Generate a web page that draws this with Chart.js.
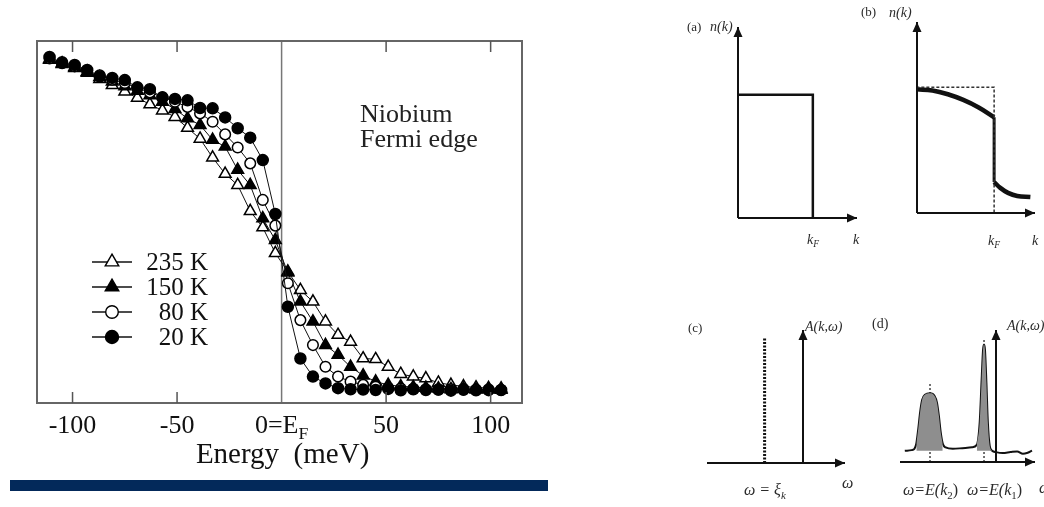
<!DOCTYPE html>
<html>
<head>
<meta charset="utf-8">
<title>Niobium Fermi edge</title>
<script src="https://cdn.jsdelivr.net/npm/chart.js@4/dist/chart.umd.min.js"></script>
<style>
  html, body { margin: 0; padding: 0; background: #fff; }
  body { position: relative; width: 1044px; height: 507px; overflow: hidden; }
  canvas { position: absolute; }
  #bar { position: absolute; left: 10px; top: 480px; width: 538px; height: 11px; background: #03295a; }
</style>
</head>
<body>
<canvas id="main" width="560" height="478" style="left:0;top:0"></canvas>
<div id="bar"></div>
<canvas id="panelA" width="200" height="260" style="left:660px;top:0"></canvas>
<canvas id="panelB" width="184" height="260" style="left:860px;top:0"></canvas>
<canvas id="panelC" width="200" height="207" style="left:660px;top:300px"></canvas>
<canvas id="panelD" width="184" height="207" style="left:860px;top:300px"></canvas>
<script>
// ---- main panel data: photoemission intensity vs energy ----
const energy = [-111, -105, -99, -93, -87, -81, -75, -69, -63, -57, -51, -45, -39, -33, -27, -21, -15, -9, -3,
                3, 9, 15, 21, 27, 33, 39, 45, 51, 57, 63, 69, 75, 81, 87, 93, 99, 105];
const n20K  = [.956, .939, .934, .920, .902, .898, .892, .872, .867, .843, .840, .836, .815, .814, .789, .759, .733, .671, .522,
               .266, .123, .073, .054, .041, .038, .037, .036, .039, .035, .038, .036, .037, .034, .038, .035, .037, .036];
const n80K  = [.952, .942, .930, .918, .905, .893, .884, .870, .858, .845, .832, .818, .800, .777, .742, .706, .662, .561, .490,
               .331, .229, .160, .100, .073, .059, .050, .045, .042, .040, .039, .038, .037, .038, .036, .037, .035, .036];
const n150K = [.950, .938, .928, .915, .900, .888, .875, .862, .850, .832, .812, .786, .768, .727, .708, .644, .602, .510, .450,
               .360, .280, .225, .160, .133, .100, .076, .059, .050, .046, .044, .042, .040, .038, .039, .037, .038, .036];
const n235K = [.948, .936, .925, .912, .895, .878, .860, .843, .825, .808, .790, .760, .730, .678, .633, .602, .530, .485, .414,
               .363, .312, .280, .225, .188, .169, .123, .121, .100, .080, .073, .068, .056, .050, .046, .043, .041, .040];
const seriesLabels = ['20 K', '80 K', '150 K', '235 K'];
const tickValues = [-100, -50, 0, 50, 100];
const tickLabels = ['-100', '-50', '0=E', '50', '100'];
const energyRange = [-117, 115];

// ---- sketch data, panels (a)-(d) ----
const kA = [0, 1, 1];
const nA = [1, 1, 0];
const kBox = [0, 0, 1, 1];
const nBox = [0, 1, 1, 0];
const kUpper = [0, 0.2, 0.4, 0.6, 0.8, 1.0];
const nUpper = [0.984, 0.975, 0.945, 0.9, 0.84, 0.762];
const kLower = [1.0, 1.08, 1.18, 1.3, 1.47];
const nLower = [0.246, 0.2, 0.16, 0.135, 0.127];
const xiK = -0.4;
const wD = [-0.95, -0.88, -0.85, -0.83, -0.81, -0.79, -0.77, -0.74, -0.6875, -0.64, -0.615, -0.595, -0.575, -0.555, -0.525,
            -0.45, -0.35, -0.25, -0.20, -0.17, -0.15, -0.135, -0.125, -0.115, -0.10, -0.085, -0.065, -0.04,
            0.0, 0.07, 0.15, 0.22, 0.28, 0.33, 0.375];
const aD = [0.085, 0.09, 0.10, 0.14, 0.25, 0.38, 0.47, 0.51, 0.52, 0.50, 0.45, 0.35, 0.22, 0.14, 0.11,
            0.10, 0.105, 0.112, 0.13, 0.30, 0.62, 0.85, 0.89, 0.85, 0.60, 0.30, 0.12, 0.085,
            0.075, 0.068, 0.075, 0.08, 0.062, 0.07, 0.086];
const peakPos = [-0.6875, -0.125];
const peakTop = [0.6, 0.94];

const SERIF = '"Liberation Serif", "DejaVu Serif", serif';
const pts = (xs, ys) => xs.map((x, i) => ({ x: x, y: ys[i] }));

// draw a run of text pieces, some italic / subscript
function drawParts(ctx, parts, x, y, size, color) {
    ctx.save();
    ctx.fillStyle = color || '#222';
    ctx.textBaseline = 'alphabetic';
    ctx.textAlign = 'left';
    let cx = x;
    parts.forEach(p => {
        const s = p.sub ? size * 0.68 : size;
        ctx.font = (p.i ? 'italic ' : '') + s + 'px ' + SERIF;
        ctx.fillText(p.t, cx, y + (p.sub ? size * 0.22 : 0));
        cx += ctx.measureText(p.t).width;
    });
    ctx.restore();
    return cx - x;
}
function partsWidth(ctx, parts, size) {
    let w = 0;
    parts.forEach(p => {
        const s = p.sub ? size * 0.68 : size;
        ctx.font = (p.i ? 'italic ' : '') + s + 'px ' + SERIF;
        w += ctx.measureText(p.t).width;
    });
    return w;
}

// same geometry as chart.js point styles, for the legend
function drawMarker(ctx, style, r, x, y, fill, border, bw) {
    ctx.save();
    ctx.beginPath();
    if (style === 'triangle') {
        let rad = 0;
        ctx.moveTo(x + Math.sin(rad) * r, y - Math.cos(rad) * r);
        rad += Math.PI * 2 / 3;
        ctx.lineTo(x + Math.sin(rad) * r, y - Math.cos(rad) * r);
        rad += Math.PI * 2 / 3;
        ctx.lineTo(x + Math.sin(rad) * r, y - Math.cos(rad) * r);
        ctx.closePath();
    } else {
        ctx.arc(x, y, r, 0, Math.PI * 2);
    }
    ctx.fillStyle = fill;
    ctx.fill();
    ctx.lineWidth = bw;
    ctx.strokeStyle = border;
    ctx.stroke();
    ctx.restore();
}

// ---- main chart ----
function series(label, values, style, filled, r) {
    return {
        label: label,
        data: pts(energy, values),
        borderColor: '#111',
        borderWidth: 1,
        pointStyle: style,
        pointRadius: r,
        pointBackgroundColor: filled ? '#000' : '#fff',
        pointBorderColor: '#000',
        pointBorderWidth: 1.5,
        tension: 0,
        fill: false
    };
}

const mainDecor = {
    id: 'mainDecor',
    beforeDatasetsDraw(chart) {
        const { ctx, chartArea: a, scales: { x } } = chart;
        // vertical line at the Fermi energy
        ctx.save();
        ctx.strokeStyle = '#777';
        ctx.lineWidth = 1.5;
        ctx.beginPath();
        ctx.moveTo(x.getPixelForValue(0), a.top);
        ctx.lineTo(x.getPixelForValue(0), a.bottom);
        ctx.stroke();
        ctx.restore();
    },
    afterDatasetsDraw(chart) {
        const { ctx, chartArea: a, scales: { x } } = chart;
        ctx.save();
        // frame
        ctx.strokeStyle = '#666';
        ctx.lineWidth = 2;
        ctx.strokeRect(a.left, a.top, a.right - a.left, a.bottom - a.top);
        // inward ticks, top and bottom
        ctx.strokeStyle = '#555';
        ctx.lineWidth = 1.5;
        tickValues.forEach(v => {
            if (v === 0) return;
            const px = x.getPixelForValue(v);
            ctx.beginPath();
            ctx.moveTo(px, a.top); ctx.lineTo(px, a.top + 11);
            ctx.moveTo(px, a.bottom); ctx.lineTo(px, a.bottom - 11);
            ctx.stroke();
        });
        // tick labels
        tickValues.forEach((v, i) => {
            const parts = v === 0 ? [{ t: tickLabels[i] }, { t: 'F', sub: true }] : [{ t: tickLabels[i] }];
            const w = partsWidth(ctx, parts, 26);
            drawParts(ctx, parts, x.getPixelForValue(v) - w / 2, 433, 26, '#111');
        });
        // axis title
        const title = [{ t: 'Energy  (meV)' }];
        const tw = partsWidth(ctx, title, 29);
        drawParts(ctx, title, x.getPixelForValue(0) - tw / 2 + 1, 463, 29, '#111');
        // annotation
        drawParts(ctx, [{ t: 'Niobium' }], 360, 122, 26, '#222');
        drawParts(ctx, [{ t: 'Fermi edge' }], 360, 147, 26, '#222');
        // legend, hottest first
        const rows = [3, 2, 1, 0];
        rows.forEach((di, r) => {
            const ds = chart.data.datasets[di];
            const y = 262 + r * 25;
            ctx.strokeStyle = '#111';
            ctx.lineWidth = 1.3;
            ctx.beginPath();
            ctx.moveTo(92, y); ctx.lineTo(132, y);
            ctx.stroke();
            drawMarker(ctx, ds.pointStyle, ds.pointRadius + 1, 112, y, ds.pointBackgroundColor, '#000', 1.4);
            ctx.font = '25px ' + SERIF;
            ctx.fillStyle = '#111';
            ctx.textAlign = 'right';
            ctx.textBaseline = 'middle';
            ctx.fillText(ds.label, 208, y + 1);
        });
        ctx.restore();
    }
};

new Chart(document.getElementById('main'), {
    type: 'line',
    data: {
        datasets: [
            series(seriesLabels[0], n20K, 'circle', true, 5.5),
            series(seriesLabels[1], n80K, 'circle', false, 5.3),
            series(seriesLabels[2], n150K, 'triangle', true, 6.8),
            series(seriesLabels[3], n235K, 'triangle', false, 6.8)
        ]
    },
    options: {
        responsive: false,
        animation: false,
        devicePixelRatio: 1,
        events: [],
        layout: { padding: { left: 37, top: 41, right: 38, bottom: 75 } },
        scales: {
            x: { type: 'linear', min: energyRange[0], max: energyRange[1], display: false },
            y: { type: 'linear', min: 0, max: 1, display: false }
        },
        plugins: { legend: { display: false }, tooltip: { enabled: false } }
    },
    plugins: [mainDecor]
});

// ---- sketches ----
const arrowHeads = {
    id: 'arrowHeads',
    afterDatasetsDraw(chart) {
        const ctx = chart.ctx;
        chart.data.datasets.forEach((ds, i) => {
            if (!ds.arrow) return;
            const el = chart.getDatasetMeta(i).data;
            const p1 = el[el.length - 2], p2 = el[el.length - 1];
            const ang = Math.atan2(p2.y - p1.y, p2.x - p1.x);
            ctx.save();
            ctx.translate(p2.x, p2.y);
            ctx.rotate(ang);
            ctx.fillStyle = '#111';
            ctx.beginPath();
            ctx.moveTo(0, 0);
            ctx.lineTo(-10, -4.5);
            ctx.lineTo(-10, 4.5);
            ctx.closePath();
            ctx.fill();
            ctx.restore();
        });
    }
};

function sketchLabels(labels) {
    return {
        id: 'sketchLabels',
        afterDraw(chart) {
            const ox = chart.canvas.offsetLeft, oy = chart.canvas.offsetTop;
            labels.forEach(l => drawParts(chart.ctx, l.parts, l.x - ox, l.y - oy, l.size, '#2a2a2a'));
        }
    };
}

function line(data, extra) {
    return Object.assign({
        data: data,
        borderColor: '#111',
        borderWidth: 2,
        pointRadius: 0,
        tension: 0,
        fill: false,
        clip: false
    }, extra || {});
}

function sketch(id, pad, xr, yr, datasets, labels) {
    return new Chart(document.getElementById(id), {
        type: 'line',
        data: { datasets: datasets },
        options: {
            responsive: false,
            animation: false,
            devicePixelRatio: 1,
            events: [],
            layout: { padding: pad },
            scales: {
                x: { type: 'linear', min: xr[0], max: xr[1], display: false },
                y: { type: 'linear', min: yr[0], max: yr[1], display: false }
            },
            plugins: { legend: { display: false }, tooltip: { enabled: false } }
        },
        plugins: [arrowHeads, sketchLabels(labels)]
    });
}

// (a) free electrons: step at kF
sketch('panelA', { left: 78, top: 27, right: 3, bottom: 42 }, [0, 1.59], [0, 1.55], [
    line([{ x: 0, y: 0 }, { x: 1.59, y: 0 }], { arrow: true }),
    line([{ x: 0, y: 0 }, { x: 0, y: 1.55 }], { arrow: true }),
    line(pts(kA, nA), { borderWidth: 2.5 })
], [
    { parts: [{ t: '(a)' }], x: 687, y: 31, size: 13 },
    { parts: [{ t: 'n(k)', i: true }], x: 710, y: 31, size: 14 },
    { parts: [{ t: 'k', i: true }, { t: 'F', i: true, sub: true }], x: 807, y: 244, size: 14 },
    { parts: [{ t: 'k', i: true }], x: 853, y: 244, size: 14 }
]);

// (b) interacting electrons: reduced jump at kF
sketch('panelB', { left: 57, top: 22, right: 9, bottom: 47 }, [0, 1.53], [0, 1.52], [
    line([{ x: 0, y: 0 }, { x: 1.53, y: 0 }], { arrow: true }),
    line([{ x: 0, y: 0 }, { x: 0, y: 1.52 }], { arrow: true }),
    line(pts(kBox, nBox), { borderWidth: 1.5, borderDash: [3, 2], borderColor: '#333' }),
    line(pts(kUpper, nUpper), { borderWidth: 4.5, tension: 0.4 }),
    line([{ x: kUpper[kUpper.length - 1], y: nUpper[nUpper.length - 1] }, { x: kLower[0], y: nLower[0] }], { borderWidth: 3 }),
    line(pts(kLower, nLower), { borderWidth: 4.5, tension: 0.4 })
], [
    { parts: [{ t: '(b)' }], x: 861, y: 16, size: 13 },
    { parts: [{ t: 'n(k)', i: true }], x: 889, y: 17, size: 14 },
    { parts: [{ t: 'k', i: true }, { t: 'F', i: true, sub: true }], x: 988, y: 245, size: 14 },
    { parts: [{ t: 'k', i: true }], x: 1032, y: 245, size: 14 }
]);

// (c) free electrons: delta function spectrum
sketch('panelC', { left: 47, top: 30, right: 15, bottom: 44 }, [-1, 0.4375], [0, 1], [
    line([{ x: -1, y: 0 }, { x: 0.4375, y: 0 }], { arrow: true }),
    line([{ x: 0, y: 0 }, { x: 0, y: 1 }], { arrow: true }),
    line([{ x: xiK, y: 0 }, { x: xiK, y: 0.94 }], { borderWidth: 3, borderDash: [2, 1.5] })
], [
    { parts: [{ t: '(c)' }], x: 688, y: 332, size: 13 },
    { parts: [{ t: 'A(k,ω)', i: true }], x: 805, y: 331, size: 14 },
    { parts: [{ t: 'ω', i: true }], x: 842, y: 488, size: 16 },
    { parts: [{ t: 'ω = ξ', i: true }, { t: 'k', i: true, sub: true }], x: 744, y: 495, size: 16 }
]);

// (d) interacting electrons: quasiparticle peaks
const curveD = pts(wD, aD);
sketch('panelD', { left: 40, top: 30, right: 9, bottom: 45 }, [-1, 0.406], [0, 1], [
    line(curveD.filter(p => p.x >= -0.83 && p.x <= -0.555),
        { borderWidth: 0, fill: { value: 0.085 }, backgroundColor: '#8e8e8e', cubicInterpolationMode: 'monotone' }),
    line(curveD.filter(p => p.x >= -0.20 && p.x <= -0.04),
        { borderWidth: 0, fill: { value: 0.085 }, backgroundColor: '#8e8e8e', cubicInterpolationMode: 'monotone' }),
    line([{ x: -1, y: 0 }, { x: 0.406, y: 0 }], { arrow: true }),
    line([{ x: 0, y: 0 }, { x: 0, y: 1 }], { arrow: true }),
    line(curveD, { borderWidth: 2, cubicInterpolationMode: 'monotone' }),
    line([{ x: peakPos[0], y: 0 }, { x: peakPos[0], y: peakTop[0] }], { borderWidth: 1.5, borderDash: [2, 2], borderColor: '#444' }),
    line([{ x: peakPos[1], y: 0 }, { x: peakPos[1], y: peakTop[1] }], { borderWidth: 1.5, borderDash: [2, 2], borderColor: '#444' })
], [
    { parts: [{ t: '(d)' }], x: 872, y: 328, size: 14 },
    { parts: [{ t: 'A(k,ω)', i: true }], x: 1007, y: 330, size: 14 },
    { parts: [{ t: 'ω=E(k', i: true }, { t: '2', sub: true }, { t: ')' }], x: 903, y: 495, size: 16 },
    { parts: [{ t: 'ω=E(k', i: true }, { t: '1', sub: true }, { t: ')' }], x: 967, y: 495, size: 16 },
    { parts: [{ t: 'ω', i: true }], x: 1039, y: 493, size: 16 }
]);
</script>
</body>
</html>
